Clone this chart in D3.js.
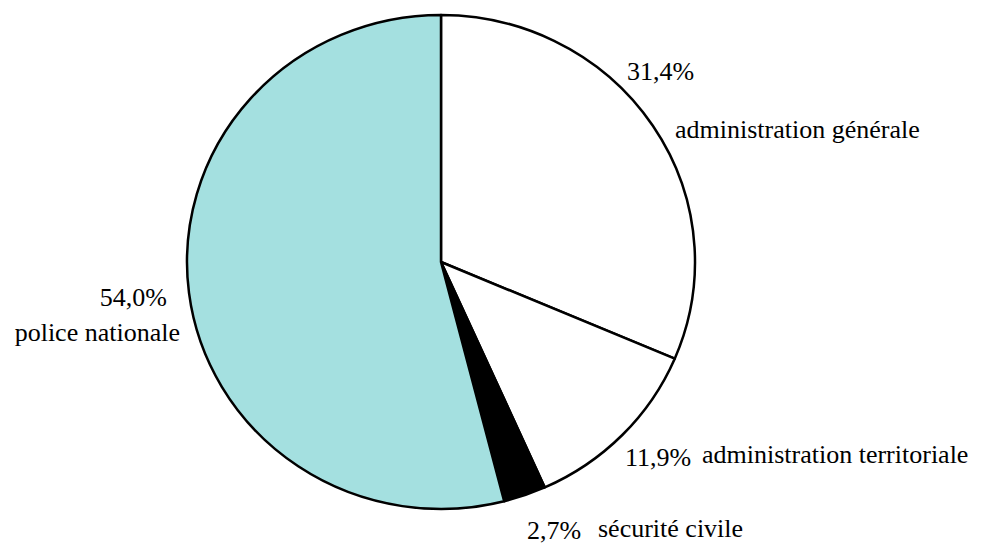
<!DOCTYPE html>
<html>
<head>
<meta charset="utf-8">
<script src="https://cdn.jsdelivr.net/npm/d3@7"></script>
<style>
  html, body { margin: 0; padding: 0; background: #fff; }
  svg { display: block; }
</style>
</head>
<body>
<svg id="chart" width="1000" height="543"></svg>
<script>
// ---- data ----
const categories = ["administration générale", "administration territoriale", "sécurité civile", "police nationale"];
const values = [31.4, 11.9, 2.7, 54.0];
const valueLabels = ["31,4%", "11,9%", "2,7%", "54,0%"];
const colors = ["#ffffff", "#ffffff", "#000000", "#a4e0e0"];

// ---- layout ----
const W = 1000, H = 543;
const cx = 441, cy = 262, rx = 254, ry = 247;
// label placement: [pctX, pctY, pctAnchor, nameX, nameY, nameAnchor]
const labelLayout = [
  [627, 80, "start", 675, 138, "start"],
  [625, 466, "start", 702, 463, "start"],
  [527, 539, "start", 598, 537, "start"],
  [167, 306, "end", 180, 341, "end"]
];

const svg = d3.select("#chart");
const g = svg.append("g").attr("transform", `translate(${cx},${cy}) scale(1,${ry / rx})`);

const pie = d3.pie().value(d => d).sort(null);
const arcs = pie(values);
const arc = d3.arc().innerRadius(0).outerRadius(rx);

g.selectAll("path.slice")
  .data(arcs)
  .join("path")
  .attr("class", "slice")
  .attr("d", arc)
  .attr("fill", (d, i) => colors[i])
  .attr("stroke", "#000")
  .attr("stroke-width", 2.5)
  .attr("vector-effect", "non-scaling-stroke")
  .attr("stroke-linejoin", "round");

const lg = svg.append("g")
  .attr("font-family", "'Liberation Serif', 'DejaVu Serif', serif")
  .attr("font-size", 26)
  .attr("fill", "#000");
categories.forEach((c, i) => {
  const L = labelLayout[i];
  lg.append("text").attr("x", L[0]).attr("y", L[1]).attr("text-anchor", L[2]).text(valueLabels[i]);
  lg.append("text").attr("x", L[3]).attr("y", L[4]).attr("text-anchor", L[5]).text(c);
});
</script>
</body>
</html>
